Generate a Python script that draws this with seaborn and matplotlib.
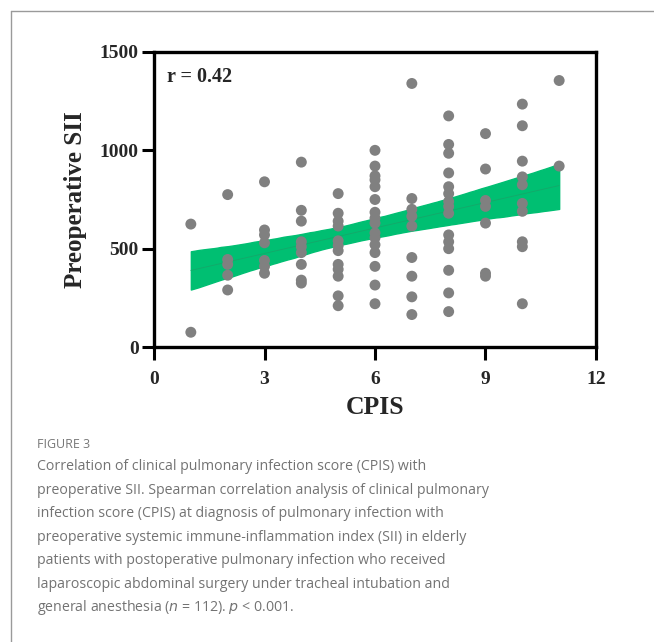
import numpy as np
import pandas as pd
import matplotlib
matplotlib.use("Agg")
import matplotlib.pyplot as plt
from matplotlib.lines import Line2D
import seaborn as sns

# CPIS score and preoperative SII
cpis = ([1] * 2 + [2] * 5 + [3] * 7 + [4] * 9 + [5] * 12 + [6] * 16
        + [7] * 9 + [8] * 15 + [9] * 7 + [10] * 10 + [11] * 2)
sii = [625, 75,
       775, 445, 420, 365, 290,
       840, 595, 570, 530, 440, 410, 375,
       940, 695, 640, 535, 510, 480, 420, 340, 325,
       780, 680, 640, 615, 540, 515, 490, 420, 395, 360, 260, 210,
       1000, 920, 870, 850, 815, 750, 685, 655, 630, 580, 555, 520, 480, 410, 315, 220,
       1340, 755, 700, 665, 615, 455, 360, 255, 165,
       1175, 1030, 985, 885, 815, 780, 740, 715, 680, 570, 535, 500, 390, 275, 180,
       1085, 905, 745, 715, 630, 375, 360,
       1235, 1125, 945, 865, 825, 730, 690, 535, 510, 220,
       1355, 920]

r_label = "r = 0.42"
x_ticks = [0, 3, 6, 9, 12]
y_ticks = [0, 500, 1000, 1500]

caption_head = "FIGURE 3"
caption_lines = [
    "Correlation of clinical pulmonary infection score (CPIS) with",
    "preoperative SII. Spearman correlation analysis of clinical pulmonary",
    "infection score (CPIS) at diagnosis of pulmonary infection with",
    "preoperative systemic immune-inflammation index (SII) in elderly",
    "patients with postoperative pulmonary infection who received",
    "laparoscopic abdominal surgery under tracheal intubation and",
    r"general anesthesia ($\mathit{n}$ = 112). $\mathit{p}$ < 0.001.",
]

df = pd.DataFrame({"CPIS": cpis, "SII": sii})

sns.set_style("white")
plt.rcParams["font.family"] = ["Liberation Serif", "DejaVu Serif"]

fig = plt.figure(figsize=(6.54, 6.42), dpi=100)
ax = fig.add_axes([154 / 654, 1 - 347 / 642, 442 / 654, 295 / 642])

green = "#00BF72"
sns.regplot(data=df, x="CPIS", y="SII", ax=ax, scatter=False, ci=95, seed=1,
            color=green, line_kws={"color": "#14a86a", "lw": 0.6})
for c in ax.collections:
    c.set_alpha(1)
    c.set_facecolor(green)
    c.set_edgecolor(green)

sns.scatterplot(data=df, x="CPIS", y="SII", ax=ax, color="#808080", s=62,
                edgecolor="none", zorder=5)

ax.set_xlim(0, 12)
ax.set_ylim(0, 1500)
ax.set_xticks(x_ticks)
ax.set_yticks(y_ticks)
for s in ax.spines.values():
    s.set_linewidth(2.4)
    s.set_color("black")
ax.tick_params(direction="out", length=9, width=2.2, color="black",
               labelsize=14, bottom=True, left=True)
ax.tick_params(axis="x", pad=8)
ax.tick_params(axis="y", pad=2)
for lab in ax.get_xticklabels() + ax.get_yticklabels():
    lab.set_fontweight("bold")
ax.set_xlabel("CPIS", fontsize=18.5, fontweight="bold", labelpad=6)
ax.set_ylabel("Preoperative SII", fontsize=18, fontweight="bold", labelpad=9)
ax.text(0.03, 0.95, r_label, transform=ax.transAxes, ha="left", va="top",
        fontsize=14.5, fontweight="bold")

# outer frame of the figure panel
frame_col = "#9a9a9a"
fig.add_artist(Line2D([11 / 654, 11 / 654], [0, 1 - 11 / 642],
                      transform=fig.transFigure, color=frame_col, lw=1))
fig.add_artist(Line2D([11 / 654, 1], [1 - 11 / 642, 1 - 11 / 642],
                      transform=fig.transFigure, color=frame_col, lw=1))

# caption
cap_font = ["Open Sans", "DejaVu Sans"]
fig.text(37 / 654, 1 - 444 / 642, caption_head, family=cap_font, fontsize=9,
         color="#777777", va="center", ha="left")
for i, line in enumerate(caption_lines):
    fig.text(37 / 654, 1 - (467 + i * 23.4) / 642, line, family=cap_font,
             fontsize=10.2, color="#737373", va="center", ha="left")

fig.savefig("out.png", dpi=100, facecolor="white")
